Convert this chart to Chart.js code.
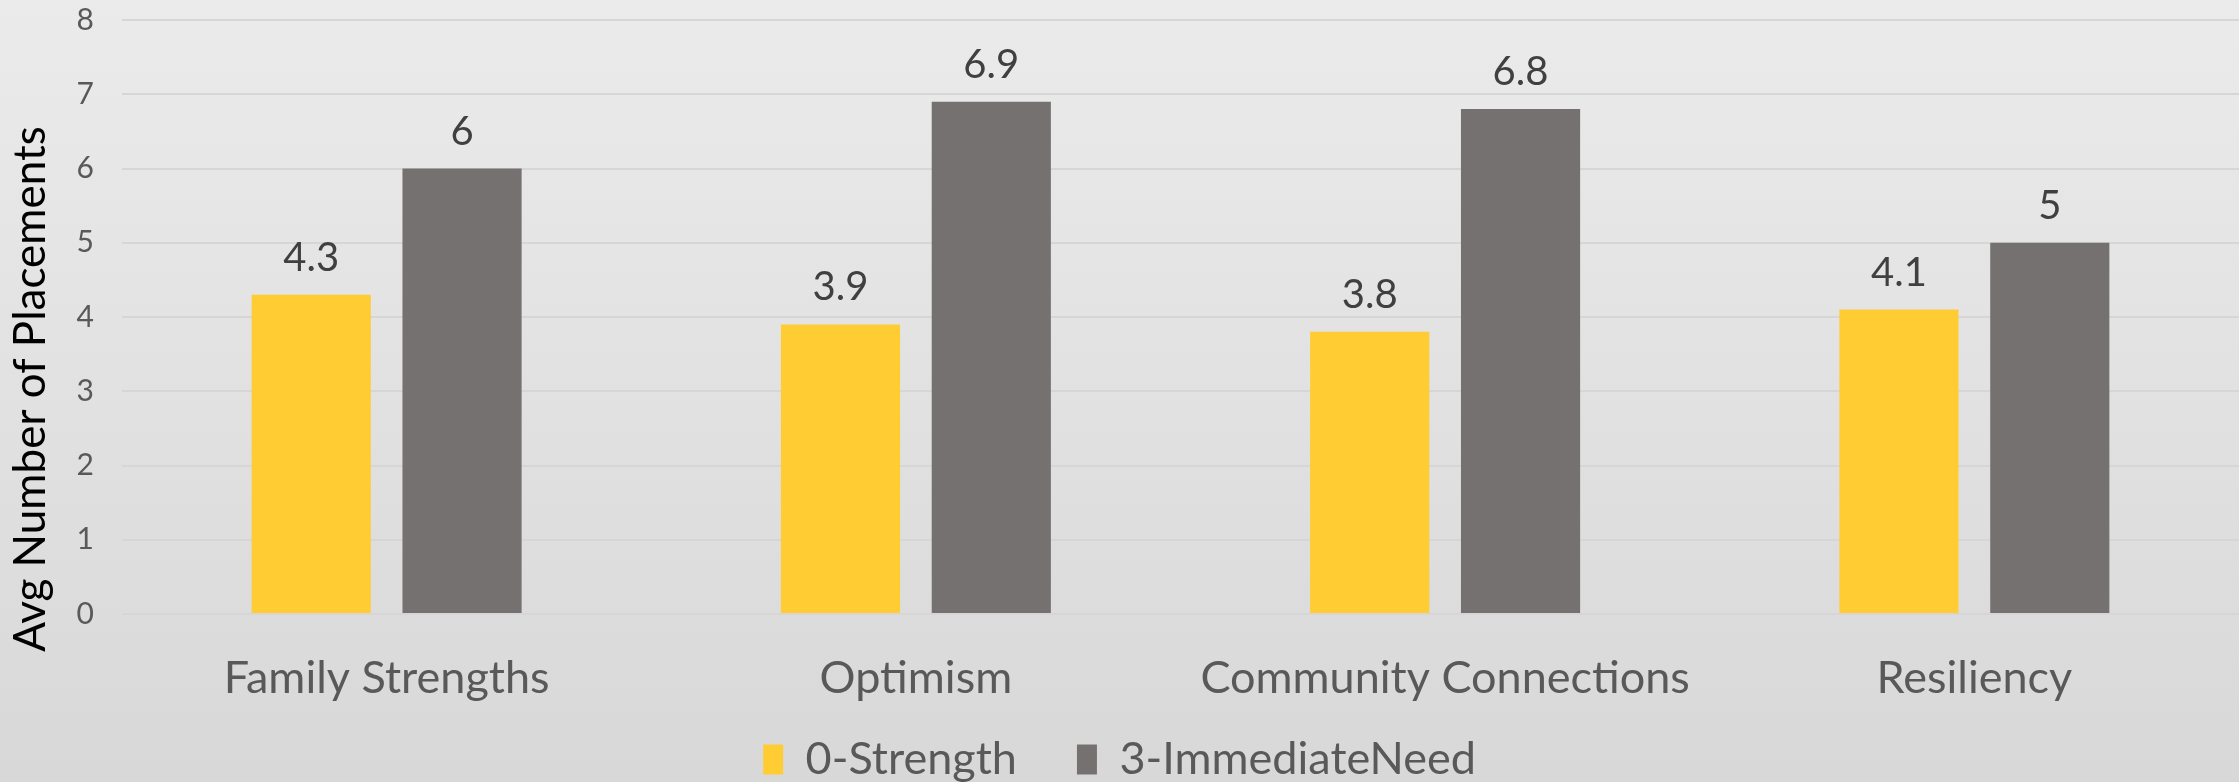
<!DOCTYPE html>
<html>
<head>
<meta charset="utf-8">
<script src="https://cdn.jsdelivr.net/npm/chart.js@4.4.1/dist/chart.umd.min.js"></script>
<style>
  html, body { margin: 0; padding: 0; background: #e2e2e2; }
  #wrap { width: 2239px; height: 782px; }
</style>
</head>
<body>
<div id="wrap"><canvas id="placementsChart" width="2239" height="782"></canvas></div>
<script>
const categories = ['Family Strengths', 'Optimism', 'Community Connections', 'Resiliency'];
const strengthValues = [4.3, 3.9, 3.8, 4.1];
const needValues = [6, 6.9, 6.8, 5];
const seriesNames = ['0-Strength', '3-ImmediateNeed'];
const seriesColors = ['#FFCC33', '#767171'];
const yTitle = 'Avg Number of Placements';

const FONT = 'Lato, "Open Sans", sans-serif';
const PLOT_TOP = 20;
const PLOT_BOTTOM = 614;
const PAD_BOTTOM = -10;

// soft vertical gradient behind the whole chart, plus the rotated axis title
const backdrop = {
  id: 'backdrop',
  beforeDraw(chart) {
    const { ctx, width, height } = chart;
    const g = ctx.createLinearGradient(0, 0, 0, height);
    g.addColorStop(0, '#ebebeb');
    g.addColorStop(1, '#d8d8d8');
    ctx.save();
    ctx.fillStyle = g;
    ctx.fillRect(0, 0, width, height);
    ctx.restore();
  },
  afterDraw(chart) {
    const { ctx } = chart;
    ctx.save();
    ctx.translate(31, 389);
    ctx.rotate(-Math.PI / 2);
    ctx.font = '44px ' + FONT;
    ctx.fillStyle = '#000000';
    ctx.textAlign = 'center';
    ctx.textBaseline = 'middle';
    ctx.fillText(yTitle, 0, 0);
    ctx.restore();
  }
};

// value labels above each bar
const barValues = {
  id: 'barValues',
  afterDatasetsDraw(chart) {
    const { ctx } = chart;
    ctx.save();
    ctx.font = '40px ' + FONT;
    ctx.fillStyle = '#404040';
    ctx.textAlign = 'center';
    ctx.textBaseline = 'alphabetic';
    chart.data.datasets.forEach((ds, i) => {
      chart.getDatasetMeta(i).data.forEach((bar, j) => {
        ctx.fillText(String(ds.data[j]), bar.x, bar.y - 24);
      });
    });
    ctx.restore();
  }
};

new Chart(document.getElementById('placementsChart'), {
  type: 'bar',
  data: {
    labels: categories,
    datasets: [
      { label: seriesNames[0], data: strengthValues, backgroundColor: seriesColors[0] },
      { label: seriesNames[1], data: needValues, backgroundColor: seriesColors[1] }
    ]
  },
  options: {
    responsive: false,
    animation: false,
    layout: { padding: { top: PLOT_TOP, right: 0, left: 0, bottom: PAD_BOTTOM } },
    datasets: { bar: { categoryPercentage: 0.57, barPercentage: 0.79 } },
    plugins: {
      tooltip: { enabled: false },
      legend: {
        position: 'bottom',
        labels: {
          boxWidth: 20,
          boxHeight: 30,
          padding: 60,
          color: '#595959',
          font: { family: FONT, size: 45 }
        }
      }
    },
    scales: {
      x: {
        grid: { display: false },
        border: { display: false },
        ticks: { color: '#595959', padding: 29, font: { family: FONT, size: 45 } },
        afterFit(scale) {
          const legendH = (scale.chart.legend && scale.chart.legend.height) || 0;
          scale.height = scale.chart.height - PLOT_BOTTOM - legendH - PAD_BOTTOM;
          // category names hang below the (short) axis box, so don't clip them
          scale._computeLabelArea = () => undefined;
        }
      },
      y: {
        min: 0,
        max: 8,
        ticks: { stepSize: 1, color: '#595959', padding: 28, font: { family: FONT, size: 30 } },
        grid: { color: '#d6d6d6', lineWidth: 2, drawTicks: false },
        border: { display: false },
        afterFit(scale) {
          scale.width = 122;
          scale.paddingTop = 0;
          scale.paddingBottom = 0;
        }
      }
    }
  },
  plugins: [backdrop, barValues]
});
</script>
</body>
</html>
